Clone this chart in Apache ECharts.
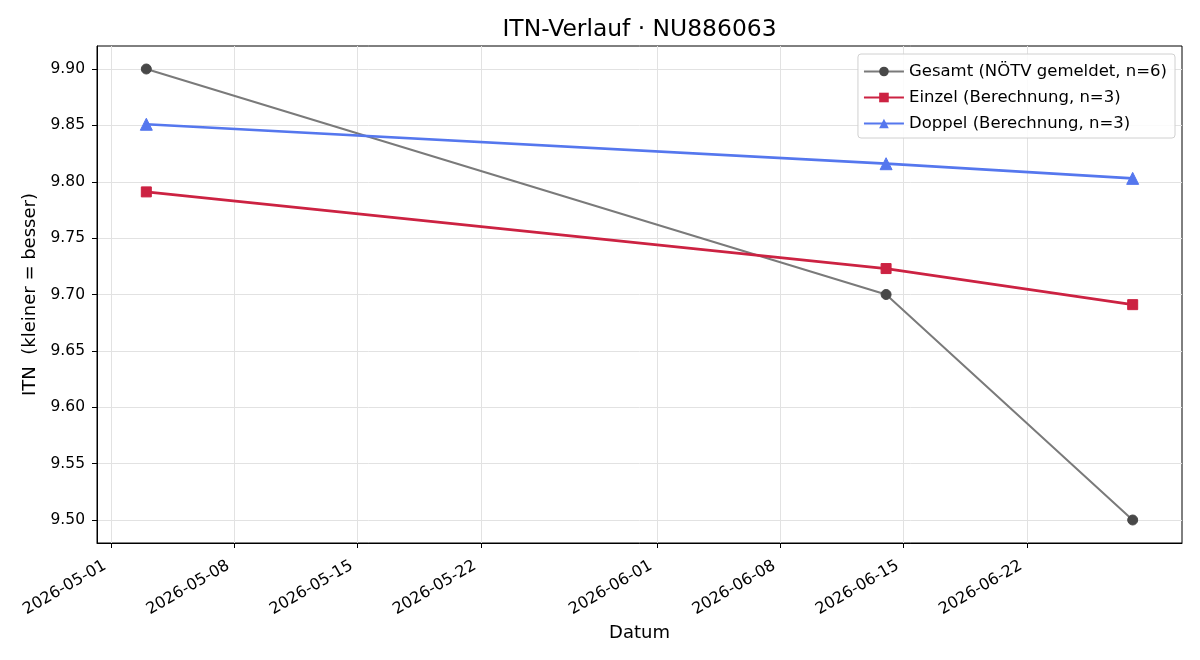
<!DOCTYPE html>
<html>
<head>
<meta charset="utf-8">
<script src="https://cdn.jsdelivr.net/npm/echarts@6/dist/echarts.min.js"></script>
<style>
  html, body { margin: 0; padding: 0; background: #fff; }
  #chart { width: 1200px; height: 660px; }
</style>
</head>
<body>
<div id="chart"></div>
<script>
var dates = ['2026-05-03', '2026-06-14', '2026-06-28']
var gesamt = [9.90, 9.70, 9.50]
var einzel = [9.791, 9.723, 9.691]
var doppel = [9.851, 9.816, 9.803]
var xTicks = ['2026-05-01', '2026-05-08', '2026-05-15', '2026-05-22', '2026-06-01', '2026-06-08', '2026-06-15', '2026-06-22']
var yTicks = [9.50, 9.55, 9.60, 9.65, 9.70, 9.75, 9.80, 9.85, 9.90]

function ts (s) {
  var p = s.split('-')
  return Date.UTC(+p[0], +p[1] - 1, +p[2])
}
function fmt (v) {
  var d = new Date(v)
  var m = d.getUTCMonth() + 1
  var day = d.getUTCDate()
  return d.getUTCFullYear() + '-' + (m < 10 ? '0' : '') + m + '-' + (day < 10 ? '0' : '') + day
}
function pairs (vals) {
  return dates.map(function (d, i) { return [ts(d), vals[i]] })
}

var xTickVals = xTicks.map(ts)
var day = 86400000
var xMin = ts(dates[0]) - 2.8 * day
var xMax = ts(dates[2]) + 2.8 * day
var yPad = (yTicks[yTicks.length - 1] - yTicks[0]) * 0.05 + 0.0004
var font = 'DejaVu Sans'

var myChart = echarts.init(document.getElementById('chart'))
var option = {
  animation: false,
  textStyle: {fontFamily: font},
  title: {
    text: 'ITN-Verlauf · NU886063',
    left: 634.5,
    textAlign: 'center',
    top: 13,
    textStyle: {fontFamily: font, fontSize: 23.4, fontWeight: 'normal', color: '#000'}
  },
  grid: {
    left: 97, right: 18, top: 46, bottom: 117,
    show: true, borderColor: '#000', borderWidth: 1
  },
  legend: {
    orient: 'vertical',
    right: 25,
    top: 54,
    itemWidth: 40,
    itemHeight: 12,
    itemGap: 9,
    padding: [9, 8, 6, 5],
    borderColor: '#d0d0d0',
    borderWidth: 1,
    borderRadius: 3,
    backgroundColor: 'rgba(255,255,255,0.85)',
    textStyle: {fontFamily: font, fontSize: 16.5, color: '#000'},
    data: ['Gesamt (NÖTV gemeldet, n=6)', 'Einzel (Berechnung, n=3)', 'Doppel (Berechnung, n=3)']
  },
  xAxis: {
    type: 'value',
    min: xMin,
    max: xMax,
    name: 'Datum',
    nameLocation: 'middle',
    nameGap: 80,
    nameTextStyle: {fontFamily: font, fontSize: 18, color: '#000'},
    axisLine: {show: true, lineStyle: {color: '#000'}},
    axisTick: {show: true, length: 5, lineStyle: {color: '#000'}, customValues: xTickVals},
    axisLabel: {
      customValues: xTickVals,
      rotate: 30,
      margin: 18,
      padding: [0, 7, 0, 0],
      fontFamily: font,
      fontSize: 16,
      color: '#000',
      formatter: function (v) { return fmt(v) }
    },
    splitLine: {show: true, lineStyle: {color: '#e2e2e2'}, customValues: xTickVals}
  },
  yAxis: {
    type: 'value',
    min: yTicks[0] - yPad,
    max: yTicks[yTicks.length - 1] + yPad,
    name: 'ITN  (kleiner = besser)',
    nameLocation: 'middle',
    nameGap: 58,
    nameTextStyle: {fontFamily: font, fontSize: 18, color: '#000'},
    axisLine: {show: true, lineStyle: {color: '#000'}},
    axisTick: {show: true, length: 5, lineStyle: {color: '#000'}, customValues: yTicks},
    axisLabel: {
      customValues: yTicks,
      margin: 12,
      fontFamily: font,
      fontSize: 15.5,
      color: '#000',
      formatter: function (v) { return v.toFixed(2) }
    },
    splitLine: {show: true, lineStyle: {color: '#e2e2e2'}, customValues: yTicks}
  },
  series: [
    {
      name: 'Gesamt (NÖTV gemeldet, n=6)',
      type: 'line',
      data: pairs(gesamt),
      symbol: 'circle',
      symbolSize: 10,
      lineStyle: {color: '#7a7a7a', width: 2},
      itemStyle: {color: '#484848', borderColor: '#484848'},
      z: 3
    },
    {
      name: 'Einzel (Berechnung, n=3)',
      type: 'line',
      data: pairs(einzel),
      symbol: 'rect',
      symbolSize: 10,
      lineStyle: {color: '#cc2242', width: 2.7},
      itemStyle: {color: '#cc2242', borderColor: '#cc2242'},
      z: 4
    },
    {
      name: 'Doppel (Berechnung, n=3)',
      type: 'line',
      data: pairs(doppel),
      symbol: 'triangle',
      symbolSize: 12,
      lineStyle: {color: '#5577ee', width: 2.7},
      itemStyle: {color: '#5577ee', borderColor: '#5577ee'},
      z: 5
    }
  ]
}
myChart.setOption(option)
</script>
</body>
</html>
